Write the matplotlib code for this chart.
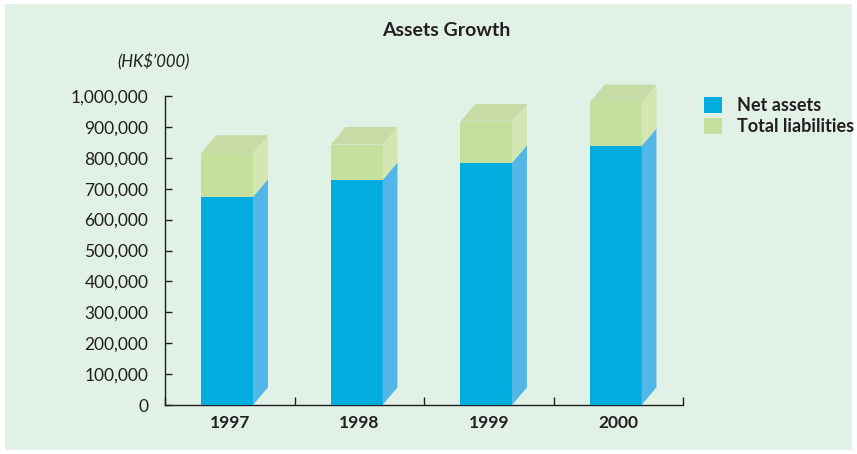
import matplotlib.pyplot as plt
from matplotlib.patches import Polygon, Rectangle, Patch
from matplotlib.ticker import FuncFormatter

years = ["1997", "1998", "1999", "2000"]
net_assets = [674000, 728000, 784000, 838000]
total_liabilities = [142000, 115000, 133000, 142000]

bg = "#E1F1E5"
txt = "#231F20"
blue_front = "#00ADDE"
blue_side = "#52B7E7"
green_front = "#C5E09D"
green_side = "#D2E7B2"
green_top = "#C7DBA6"

plt.rcParams["font.family"] = ["Lato", "DejaVu Sans"]


def main():
    fig = plt.figure(figsize=(8.57, 4.54), dpi=100)
    fig.patches.append(Rectangle((5 / 857, 4 / 454), 847 / 857, 446 / 454,
                                 transform=fig.transFigure, facecolor=bg,
                                 edgecolor="none", zorder=-10))

    ax = fig.add_axes([165 / 857, 49 / 454, 518 / 857, 309 / 454])
    ax.set_facecolor("none")

    w = 0.4
    dx = 0.115
    dy = 57000
    shift = -0.02
    for i, (n, l) in enumerate(zip(net_assets, total_liabilities)):
        t = n + l
        x0 = i + shift - w / 2
        x1 = i + shift + w / 2
        ax.add_patch(Rectangle((x0, 0), w, n, facecolor=blue_front,
                               edgecolor="none", zorder=3))
        ax.add_patch(Rectangle((x0, n), w, l, facecolor=green_front,
                               edgecolor="none", zorder=3))
        ax.add_patch(Polygon([(x1, 0), (x1 + dx, dy), (x1 + dx, n + dy), (x1, n)],
                             facecolor=blue_side, edgecolor="none", zorder=3,
                             clip_on=False))
        ax.add_patch(Polygon([(x1, n), (x1 + dx, n + dy), (x1 + dx, t + dy), (x1, t)],
                             facecolor=green_side, edgecolor="none", zorder=3,
                             clip_on=False))
        ax.add_patch(Polygon([(x0, t), (x1, t), (x1 + dx, t + dy), (x0 + dx, t + dy)],
                             facecolor=green_top, edgecolor="none", zorder=3,
                             clip_on=False))

    ax.set_xlim(-0.5, 3.5)
    ax.set_ylim(0, 1000000)
    ax.spines["top"].set_visible(False)
    ax.spines["right"].set_visible(False)
    for s in ("left", "bottom"):
        ax.spines[s].set_color(txt)
        ax.spines[s].set_linewidth(1.0)

    ax.set_yticks(range(0, 1000001, 100000))
    ax.yaxis.set_major_formatter(FuncFormatter(lambda v, p: f"{int(v):,}"))
    ax.tick_params(axis="y", direction="in", length=5, width=1, color=txt,
                   labelsize=12.5, labelcolor=txt, pad=12)

    ax.set_xticks([-0.5, 0.5, 1.5, 2.5, 3.5])
    ax.set_xticklabels([])
    ax.tick_params(axis="x", which="major", direction="in", length=6, width=1,
                   color=txt)
    ax.set_xticks(range(len(years)), minor=True)
    ax.set_xticklabels(years, minor=True, fontweight="bold", fontsize=12.5,
                       color=txt)
    ax.tick_params(axis="x", which="minor", length=0, pad=7)

    fig.text(446 / 857, 1 - 30 / 454, "Assets Growth", ha="center", va="center",
             fontsize=14, fontweight="bold", color=txt)
    fig.text(153 / 857, 1 - 62 / 454, "(HK$\u2019000)", ha="center", va="center",
             fontsize=12, fontstyle="italic", color=txt)

    handles = [Patch(facecolor=blue_front, label="Net assets"),
               Patch(facecolor=green_front, label="Total liabilities")]
    fig.legend(handles=handles, loc="upper left",
               bbox_to_anchor=(697 / 857, 1 - 90 / 454), frameon=False,
               handlelength=1.0, handleheight=1.0, handletextpad=0.8,
               labelspacing=0.2, borderaxespad=0,
               prop={"weight": "bold", "size": 13}, labelcolor=txt)

    fig.savefig("out.png", dpi=100)


if __name__ == "__main__":
    main()
